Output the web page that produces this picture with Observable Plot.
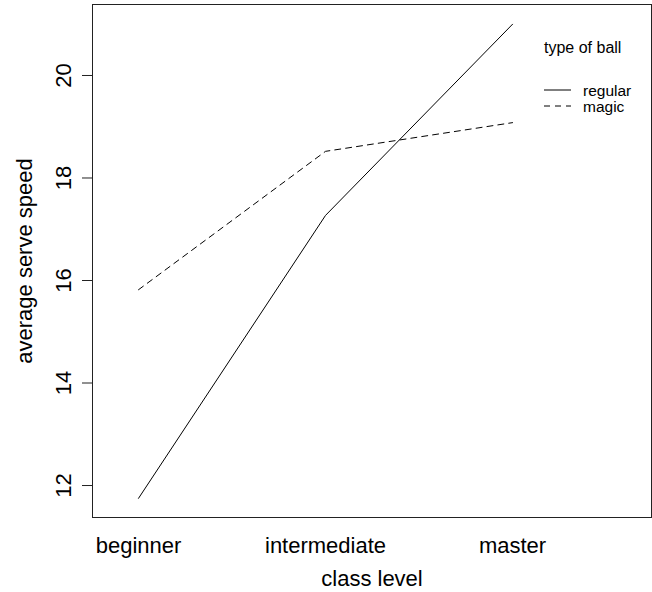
<!DOCTYPE html>
<html>
<head>
<meta charset="utf-8">
<script src="https://cdn.jsdelivr.net/npm/d3@7"></script>
<script src="https://cdn.jsdelivr.net/npm/@observablehq/plot@0.6"></script>
<style>
  html, body { margin: 0; padding: 0; background: #fff; }
  #chart svg { display: block; }
</style>
</head>
<body>
<div id="chart"></div>
<script>
const levels = ["beginner", "intermediate", "master"];
const levelPos = [1, 2, 3];
const regular = [11.75, 17.27, 21.0];
const magic = [15.82, 18.52, 19.08];
const yTicks = [12, 14, 16, 18, 20];
const seriesNames = ["regular", "magic"];
const legendTitle = "type of ball";
const xTitle = "class level";
const yTitle = "average serve speed";

const rows = [];
levels.forEach((lv, i) => {
  rows.push({series: "regular", x: levelPos[i], y: regular[i]});
  rows.push({series: "magic", x: levelPos[i], y: magic[i]});
});
const xLabels = levels.map((lv, i) => ({label: lv, x: levelPos[i]}));

const font = "'Liberation Sans', Arial, Helvetica, sans-serif";
const dashes = {regular: null, magic: "6,5"};

function legend(index, scales, values, dims) {
  const right = dims.width - dims.marginRight;
  const top = dims.marginTop;
  const g = d3.create("svg:g").attr("font-family", font)
    .attr("fill", "black").attr("text-anchor", "start");
  g.append("text").attr("font-size", 16).attr("x", right - 107).attr("y", top + 43).attr("dy", "0.35em").text(legendTitle);
  seriesNames.forEach((s, i) => {
    const y = top + 86 + i * 16;
    g.append("line").attr("x1", right - 107).attr("x2", right - 80).attr("y1", y).attr("y2", y)
      .attr("stroke", "black").attr("stroke-width", 1).attr("stroke-dasharray", dashes[s]);
    g.append("text").attr("font-size", 15.5).attr("x", right - 68).attr("y", y + 1).attr("dy", "0.35em").text(s);
  });
  return g.node();
}

const chart = Plot.plot({
  width: 652,
  height: 592,
  marginLeft: 92,
  marginRight: 1,
  marginTop: 4,
  marginBottom: 75,
  style: {fontFamily: font, background: "white"},
  x: {domain: [0.754, 3.743], axis: null},
  y: {domain: [11.376, 21.385], axis: null},
  marks: [
    Plot.frame({stroke: "#222", strokeWidth: 1}),
    Plot.axisY({ticks: yTicks, tickSize: 10, tickFormat: () => "", stroke: "#222", label: null}),
    Plot.text(yTicks, {y: d => d, text: d => String(d), frameAnchor: "left", dx: -29, rotate: -90, textAnchor: "middle", lineAnchor: "middle", fontSize: 22, fill: "black"}),
    Plot.text(xLabels, {x: "x", text: "label", frameAnchor: "bottom", dy: 28, textAnchor: "middle", lineAnchor: "middle", fontSize: 22, fill: "black"}),
    Plot.text([xTitle], {text: d => d, frameAnchor: "bottom", dy: 61, textAnchor: "middle", lineAnchor: "middle", fontSize: 22, fill: "black"}),
    Plot.text([yTitle], {text: d => d, frameAnchor: "left", dx: -68, rotate: -90, textAnchor: "middle", lineAnchor: "middle", fontSize: 22, fill: "black"}),
    Plot.line(rows.filter(d => d.series === "regular"), {x: "x", y: "y", stroke: "black", strokeWidth: 1}),
    Plot.line(rows.filter(d => d.series === "magic"), {x: "x", y: "y", stroke: "black", strokeWidth: 1, strokeDasharray: "6,5"}),
    legend
  ]
});
document.getElementById("chart").appendChild(chart);
</script>
</body>
</html>
